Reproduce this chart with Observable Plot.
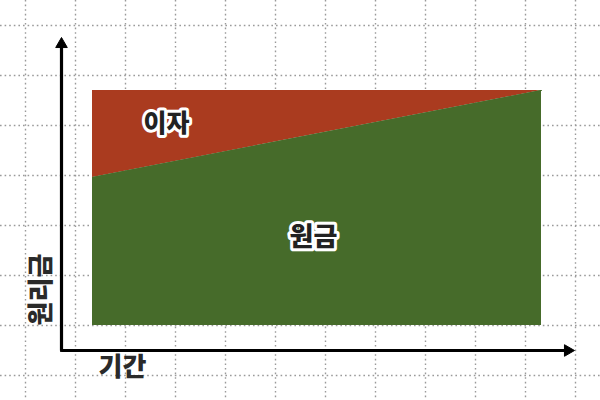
<!DOCTYPE html>
<html>
<head>
<meta charset="utf-8">
<script src="https://cdn.jsdelivr.net/npm/d3@7"></script>
<script src="https://cdn.jsdelivr.net/npm/@observablehq/plot@0.6"></script>
<style>
  html, body { margin: 0; padding: 0; background: #fff; }
  #chart svg { display: block; }
</style>
</head>
<body>
<div id="chart"></div>
<script>
// 기간 (period) and amounts (원리금 = principal + interest)
const period = [0, 10];
const principal = [63, 100];   // 원금
const total = [100, 100];      // 원리금
const seriesLabels = ["이자", "원금"];
const axisLabels = { x: "기간", y: "원리금" };

const data = period.map((t, i) => ({ t, principal: principal[i], total: total[i] }));

// pixel layout helpers (style only)
const W = 600, H = 400;
const x0px = 92, x1px = 541, y0px = 325, y1px = 90;
const kx = (x1px - x0px) / (period[1] - period[0]);
const ky = (y0px - y1px) / 100;
const xDomain = [-x0px / kx, (W - x0px) / kx];
const yDomain = [-(H - y0px) / ky, y0px / ky];
const px2x = p => (p - x0px) / kx;
const py2y = p => (y0px - p) / ky;

const gridXs = d3.range(25, W, 50).map(px2x);
const gridYs = d3.range(25, H, 50).map(py2y);

const axisX = px2x(61), axisY = py2y(350);
const headR = 4.3;          // triangle dot radius
const headOff = 6.7;        // centroid offset from tip, px
const yHead = { x: axisX, y: py2y(37 + headOff) };
const xHead = { x: px2x(574 - headOff), y: axisY };

const font = "'Noto Sans CJK KR', 'Noto Sans', sans-serif";

const chart = Plot.plot({
  width: W,
  height: H,
  margin: 0,
  x: { domain: xDomain, axis: null },
  y: { domain: yDomain, axis: null },
  style: { fontFamily: font, background: "#fff" },
  marks: [
    Plot.ruleX(gridXs, { stroke: "#9a9a9a", strokeWidth: 1.4, strokeDasharray: "1.6,3" }),
    Plot.ruleY(gridYs, { stroke: "#9a9a9a", strokeWidth: 1.4, strokeDasharray: "1.6,3" }),
    Plot.areaY(data, { x: "t", y1: "principal", y2: "total", fill: "#aa3b1f", curve: "linear" }),
    Plot.areaY(data, { x: "t", y1: 0, y2: "principal", fill: "#466b2a", curve: "linear" }),
    Plot.line(data, { x: "t", y: "principal", stroke: "#466b2a", strokeWidth: 1 }),
    // axes with filled triangular heads
    Plot.link([{ x1: axisX, y1: axisY, x2: yHead.x, y2: yHead.y }], {
      x1: "x1", y1: "y1", x2: "x2", y2: "y2", stroke: "#000", strokeWidth: 3.2
    }),
    Plot.link([{ x1: axisX, y1: axisY, x2: xHead.x, y2: xHead.y }], {
      x1: "x1", y1: "y1", x2: "x2", y2: "y2", stroke: "#000", strokeWidth: 3.2
    }),
    Plot.dot([{ x: axisX, y: axisY }], { x: "x", y: "y", r: 1.6, fill: "#000", symbol: "square" }),
    Plot.dot([yHead], { x: "x", y: "y", r: headR, symbol: "triangle", fill: "#000", stroke: "#000", strokeWidth: 1 }),
    Plot.dot([xHead], { x: "x", y: "y", r: headR, symbol: "triangle", rotate: 90, fill: "#000", stroke: "#000", strokeWidth: 1 }),
    Plot.text([seriesLabels[0]], {
      x: px2x(166), y: py2y(123), text: d => d,
      fill: "#222", stroke: "#fff", strokeWidth: 6, fontSize: 25, fontWeight: 900
    }),
    Plot.text([seriesLabels[1]], {
      x: px2x(313), y: py2y(237), text: d => d,
      fill: "#222", stroke: "#fff", strokeWidth: 6, fontSize: 26, fontWeight: 900
    }),
    Plot.text([axisLabels.x], {
      x: px2x(122), y: py2y(367), text: d => d,
      fill: "#2a2a2a", fontSize: 26, fontWeight: 900
    }),
    Plot.text([axisLabels.y], {
      x: px2x(41), y: py2y(289), text: d => d, rotate: -90,
      fill: "#2a2a2a", fontSize: 26, fontWeight: 900
    })
  ]
});

document.getElementById("chart").append(chart);
</script>
</body>
</html>
